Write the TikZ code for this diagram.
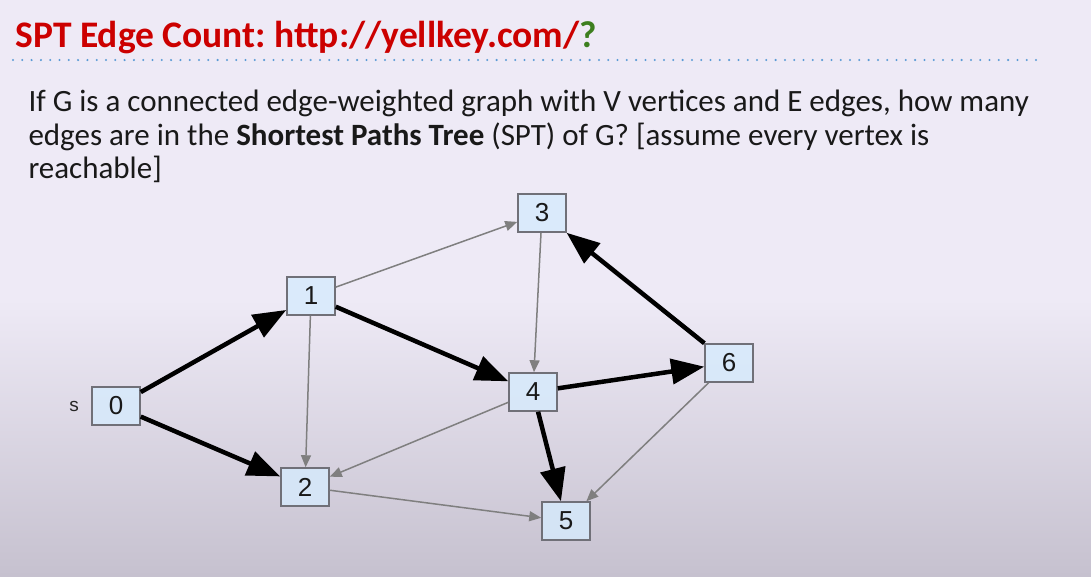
\documentclass[tikz,border=0pt]{standalone}
\usepackage{fontspec}
\setmainfont{Carlito}
\newfontfamily\arialfont{Liberation Sans}
\usetikzlibrary{arrows.meta}
\frenchspacing

\definecolor{titlered}{HTML}{CC0000}
\definecolor{qgreen}{HTML}{3D7F1F}
\definecolor{dotblue}{HTML}{5B9BD5}
\definecolor{boxblue}{HTML}{D6EBFD}
\definecolor{boxline}{HTML}{707078}
\definecolor{edgegray}{HTML}{7F7F7F}
\definecolor{bgtop}{HTML}{EEEAF6}
\definecolor{bgbottom}{HTML}{C6C1CF}

\begin{document}
\begin{tikzpicture}[x=1pt,y=-1pt,
  vertex/.style={draw=boxline, line width=1.5pt, fill=boxblue, fill opacity=0.8, text opacity=1,
    minimum width=48pt, minimum height=38pt, inner sep=0pt, text=black!90,
    font=\arialfont\fontsize{26}{26}\selectfont},
  tree/.style={draw=black, line width=4.5pt, -{Triangle[length=33pt,width=25pt]}},
  other/.style={draw=edgegray, line width=1.5pt, -{Triangle[length=12pt,width=10pt]}},
  bodytext/.style={anchor=base west, text=black!90, font=\fontsize{31}{34}\selectfont}]
\useasboundingbox (0,0) rectangle (1091,576);
\fill[bgtop] (0,0) rectangle (1091,300);
\shade[top color=bgtop, bottom color=bgbottom] (0,299) rectangle (1091,576);

\node[anchor=base west, text=titlered, font=\bfseries\fontsize{37.5}{40}\selectfont] (title) at (12,47)
  {SPT Edge Count: http://yellkey.com/\textcolor{qgreen}{?}};
\draw[dotblue, line width=2.3pt, line cap=round, dash pattern=on 0pt off 9.3pt] (13,60) -- (1043,60);

\node[bodytext] (line1) at (25,111) {If G is a connected edge-weighted graph with V vertices and E edges, how many};
\node[bodytext] (line2) at (25,145) {edges are in the \textbf{Shortest Paths Tree} (SPT) of G? [assume every vertex is};
\node[bodytext] (line3) at (25,178) {reachable]};

\node[vertex] (0) at (116,406) {0};
\node[vertex] (1) at (311,296) {1};
\node[vertex] (2) at (305,487) {2};
\node[vertex] (3) at (542,213) {3};
\node[vertex] (4) at (533,392) {4};
\node[vertex] (5) at (566,521) {5};
\node[vertex] (6) at (729,363) {6};
\node[font=\arialfont\fontsize{19}{19}\selectfont, text=black!85] (s) at (74,406) {s};

\path[other] (1) -- (3);
\path[other] (1) -- (2);
\path[other] (3) -- (4);
\path[other] (4) -- (2);
\path[other] (2) -- (5);
\path[other] (6) -- (5);

\path[tree] (0) -- (1);
\path[tree] (0) -- (2);
\path[tree] (1) -- (4);
\path[tree] (4) -- (6);
\path[tree] (4) -- (5);
\path[tree] (6) -- (3);
\end{tikzpicture}
\end{document}
